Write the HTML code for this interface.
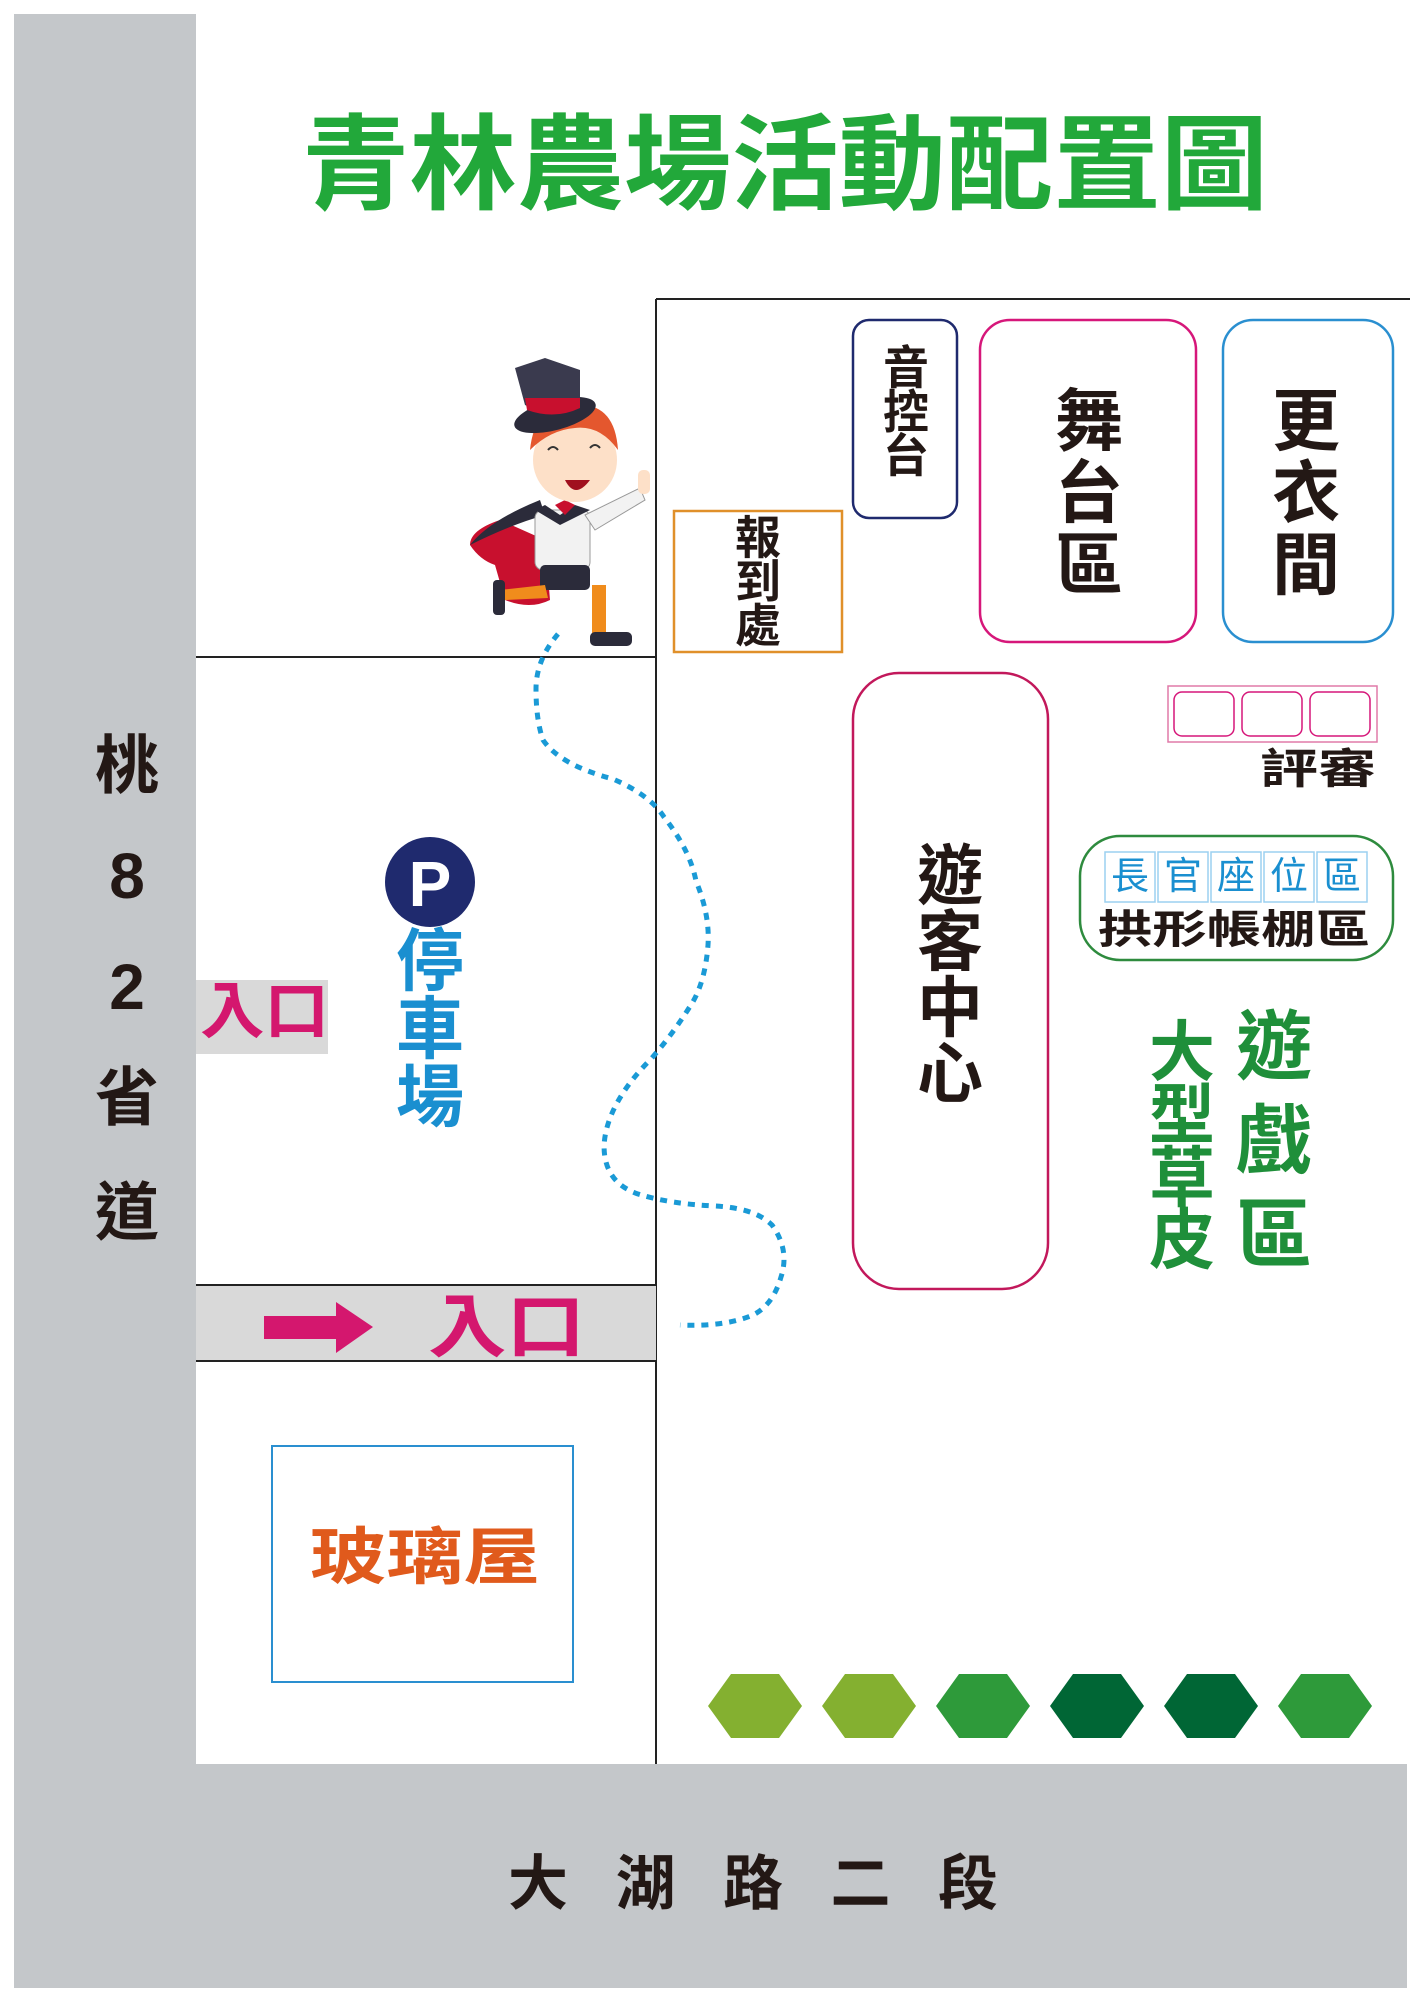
<!DOCTYPE html>
<html><head><meta charset="utf-8"><style>
html,body{margin:0;padding:0;background:#fff;}
svg{display:block;}
text{font-family:"Liberation Sans","Noto Sans CJK TC",sans-serif;}
</style></head><body>
<svg width="1422" height="2000" viewBox="0 0 1422 2000" xmlns="http://www.w3.org/2000/svg">
<rect x="0" y="0" width="1422" height="2000" fill="#fff"/>
<rect x="14" y="14" width="182" height="1974" fill="#c4c7ca"/>
<rect x="14" y="1764" width="1393" height="224" fill="#c4c7ca"/>
<text x="302" y="166" font-size="104" font-weight="bold" fill="#22a83a" dominant-baseline="central" textLength="966" lengthAdjust="spacingAndGlyphs">青林農場活動配置圖</text>
<line x1="656" y1="299" x2="1410" y2="299" stroke="#222" stroke-width="2"/>
<line x1="656" y1="299" x2="656" y2="1764" stroke="#222" stroke-width="2"/>
<line x1="196" y1="657" x2="656" y2="657" stroke="#222" stroke-width="2"/>
<rect x="196" y="1285" width="460" height="76" fill="#d9d9d9"/>
<line x1="196" y1="1285" x2="656" y2="1285" stroke="#222" stroke-width="2"/>
<line x1="196" y1="1361" x2="656" y2="1361" stroke="#222" stroke-width="2"/>
<rect x="196" y="980" width="132" height="74" fill="#d9d9d9"/>
<g font-size="64" font-weight="bold" fill="#231815" text-anchor="middle" dominant-baseline="central">
<text x="127" y="766">桃</text><text x="127" y="876">8</text><text x="127" y="987">2</text><text x="127" y="1098">省</text><text x="127" y="1213">道</text>
</g>
<text x="200" y="1012" font-size="62" font-weight="bold" fill="#d4176e" dominant-baseline="central" textLength="129" lengthAdjust="spacingAndGlyphs">入口</text>
<polygon points="264,1316 336,1316 336,1302 373,1327 336,1353 336,1339 264,1339" fill="#d4176e"/>
<text x="428" y="1327" font-size="70" font-weight="bold" fill="#d4176e" dominant-baseline="central" textLength="157" lengthAdjust="spacingAndGlyphs">入口</text>
<circle cx="430" cy="882" r="45" fill="#1f2a6e"/>
<text x="430" y="884" font-size="64" font-weight="bold" fill="#fff" text-anchor="middle" dominant-baseline="central">P</text>
<g font-size="68" font-weight="bold" fill="#1a8fd0" text-anchor="middle" dominant-baseline="central">
<text x="430" y="962">停</text><text x="430" y="1030">車</text><text x="430" y="1098">場</text>
</g>
<rect x="272" y="1446" width="301" height="236" fill="none" stroke="#2a8fd0" stroke-width="2"/>
<text x="310" y="1558" font-size="62" font-weight="bold" fill="#e05a1c" dominant-baseline="central" textLength="230" lengthAdjust="spacingAndGlyphs">玻璃屋</text>
<rect x="853" y="320" width="104" height="198" rx="16" fill="none" stroke="#1f2a6e" stroke-width="2.5"/>
<g font-size="46" font-weight="bold" fill="#231815" text-anchor="middle" dominant-baseline="central">
<text x="906" y="368">音</text><text x="906" y="412">控</text><text x="906" y="456">台</text>
</g>
<rect x="980" y="320" width="216" height="322" rx="30" fill="none" stroke="#d6177a" stroke-width="2.5"/>
<g font-size="68" font-weight="bold" fill="#231815" text-anchor="middle" dominant-baseline="central">
<text x="1089" y="422">舞</text><text x="1089" y="494">台</text><text x="1089" y="566">區</text>
</g>
<rect x="1223" y="320" width="170" height="322" rx="30" fill="none" stroke="#2a8fd0" stroke-width="2.5"/>
<g font-size="68" font-weight="bold" fill="#231815" text-anchor="middle" dominant-baseline="central">
<text x="1306" y="422">更</text><text x="1306" y="494">衣</text><text x="1306" y="566">間</text>
</g>
<rect x="674" y="511" width="168" height="141" fill="none" stroke="#e0902a" stroke-width="2.5"/>
<g font-size="46" font-weight="bold" fill="#231815" text-anchor="middle" dominant-baseline="central">
<text x="758" y="538">報</text><text x="758" y="582">到</text><text x="758" y="626">處</text>
</g>
<rect x="853" y="673" width="195" height="616" rx="46" fill="none" stroke="#c2185b" stroke-width="2.5"/>
<g font-size="66" font-weight="bold" fill="#231815" text-anchor="middle" dominant-baseline="central">
<text x="950" y="876">遊</text><text x="950" y="942">客</text><text x="950" y="1008">中</text><text x="950" y="1074">心</text>
</g>
<rect x="1168" y="686" width="209" height="56" fill="none" stroke="#e07aa8" stroke-width="1.5"/>
<rect x="1174" y="692" width="60" height="44" rx="8" fill="none" stroke="#d6177a" stroke-width="1.5"/>
<rect x="1242" y="692" width="60" height="44" rx="8" fill="none" stroke="#d6177a" stroke-width="1.5"/>
<rect x="1310" y="692" width="60" height="44" rx="8" fill="none" stroke="#d6177a" stroke-width="1.5"/>
<text x="1260" y="769" font-size="42" font-weight="bold" fill="#231815" dominant-baseline="central" textLength="116" lengthAdjust="spacingAndGlyphs">評審</text>
<rect x="1080" y="836" width="313" height="124" rx="40" fill="none" stroke="#2e8b3e" stroke-width="2.5"/>
<g font-size="38" fill="#1a8fd0" text-anchor="middle" dominant-baseline="central">
<rect x="1105" y="852" width="50" height="50" fill="none" stroke="#9cd0f0" stroke-width="1.5"/><text x="1130" y="877">長</text>
<rect x="1158" y="852" width="50" height="50" fill="none" stroke="#9cd0f0" stroke-width="1.5"/><text x="1183" y="877">官</text>
<rect x="1211" y="852" width="50" height="50" fill="none" stroke="#9cd0f0" stroke-width="1.5"/><text x="1236" y="877">座</text>
<rect x="1264" y="852" width="50" height="50" fill="none" stroke="#9cd0f0" stroke-width="1.5"/><text x="1289" y="877">位</text>
<rect x="1317" y="852" width="50" height="50" fill="none" stroke="#9cd0f0" stroke-width="1.5"/><text x="1342" y="877">區</text>
</g>
<text x="1098" y="930" font-size="40" font-weight="bold" fill="#231815" dominant-baseline="central" textLength="272" lengthAdjust="spacingAndGlyphs">拱形帳棚區</text>
<g font-size="66" font-weight="bold" fill="#1f8f3a" text-anchor="middle" dominant-baseline="central">
<text x="1182" y="1052">大</text><text x="1182" y="1115">型</text><text x="1182" y="1178">草</text><text x="1182" y="1240">皮</text>
</g>
<g font-size="76" font-weight="bold" fill="#1f8f3a" text-anchor="middle" dominant-baseline="central">
<text x="1274" y="1048">遊</text><text x="1274" y="1142">戲</text><text x="1274" y="1236">區</text>
</g>
<g>
<polygon points="708,1706 731,1674 779,1674 802,1706 779,1738 731,1738" fill="#84b030"/>
<polygon points="822,1706 845,1674 893,1674 916,1706 893,1738 845,1738" fill="#84b030"/>
<polygon points="936,1706 959,1674 1007,1674 1030,1706 1007,1738 959,1738" fill="#2e9a3a"/>
<polygon points="1050,1706 1073,1674 1121,1674 1144,1706 1121,1738 1073,1738" fill="#006635"/>
<polygon points="1164,1706 1187,1674 1235,1674 1258,1706 1235,1738 1187,1738" fill="#006635"/>
<polygon points="1278,1706 1301,1674 1349,1674 1372,1706 1349,1738 1301,1738" fill="#2e9a3a"/>
</g>
<text x="508" y="1884" font-size="60" font-weight="bold" fill="#231815" dominant-baseline="central" textLength="490" lengthAdjust="spacing">大湖路二段</text>
<path d="M558,634 Q536,660 536,689 Q536,720 543,740 Q560,765 613,779 Q650,795 664,817 Q690,850 696,881 Q710,915 708,945 Q705,985 689,1008 Q672,1035 651,1059 Q625,1085 613,1111 Q600,1140 606,1162 Q612,1185 638,1194 Q670,1204 715,1206 Q755,1208 772,1225 Q790,1250 781,1277 Q773,1305 753,1315 Q725,1327 680,1325" fill="none" stroke="#1a9ad6" stroke-width="5" stroke-dasharray="7 7"/>
<g>
<path d="M500,520 Q470,530 470,545 Q480,560 495,565 L505,600 Q530,610 550,600 L545,540 Z" fill="#c8102e"/>
<path d="M470,545 Q490,520 540,500 L545,515 Q510,525 470,545 Z" fill="#2b2b3a"/>
<rect x="535" y="510" width="55" height="60" rx="8" fill="#f2f2f2" stroke="#999" stroke-width="1"/>
<path d="M585,515 L640,488 L645,500 L595,530 Z" fill="#f2f2f2" stroke="#999" stroke-width="1"/>
<rect x="638" y="470" width="12" height="24" rx="5" fill="#fde0c8"/>
<rect x="540" y="565" width="50" height="25" rx="5" fill="#2b2b3a"/>
<path d="M500,590 L545,585 L548,598 L505,600 Z" fill="#f08c1c"/>
<rect x="493" y="580" width="12" height="35" rx="4" fill="#2b2b3a"/>
<rect x="592" y="585" width="14" height="55" fill="#f08c1c"/>
<rect x="590" y="632" width="42" height="14" rx="5" fill="#2b2b3a"/>
<path d="M535,510 L545,505 L560,515 L575,505 L590,510 L560,525 Z" fill="#2b2b3a"/>
<path d="M555,505 L565,515 L575,505 L565,500 Z" fill="#c8102e"/>
<circle cx="575" cy="460" r="42" fill="#fde0c8"/>
<path d="M530,450 Q535,400 580,405 Q615,405 618,450 Q600,425 575,428 Q550,430 530,450 Z" fill="#e4572e"/>
<path d="M565,480 Q575,500 590,480 Z" fill="#a0101e"/>
<path d="M548,450 q5,-6 10,0 M590,448 q5,-6 10,0" stroke="#333" stroke-width="2" fill="none"/>
<ellipse cx="555" cy="415" rx="42" ry="15" fill="#2b2b3a" transform="rotate(-15 555 415)"/>
<path d="M525,405 L515,368 L545,358 L580,370 L580,405 Q555,420 525,405 Z" fill="#3a3a4e"/>
<path d="M525,398 L580,398 L580,408 Q555,420 527,410 Z" fill="#c8102e"/>
</g>
</svg>
</body></html>
